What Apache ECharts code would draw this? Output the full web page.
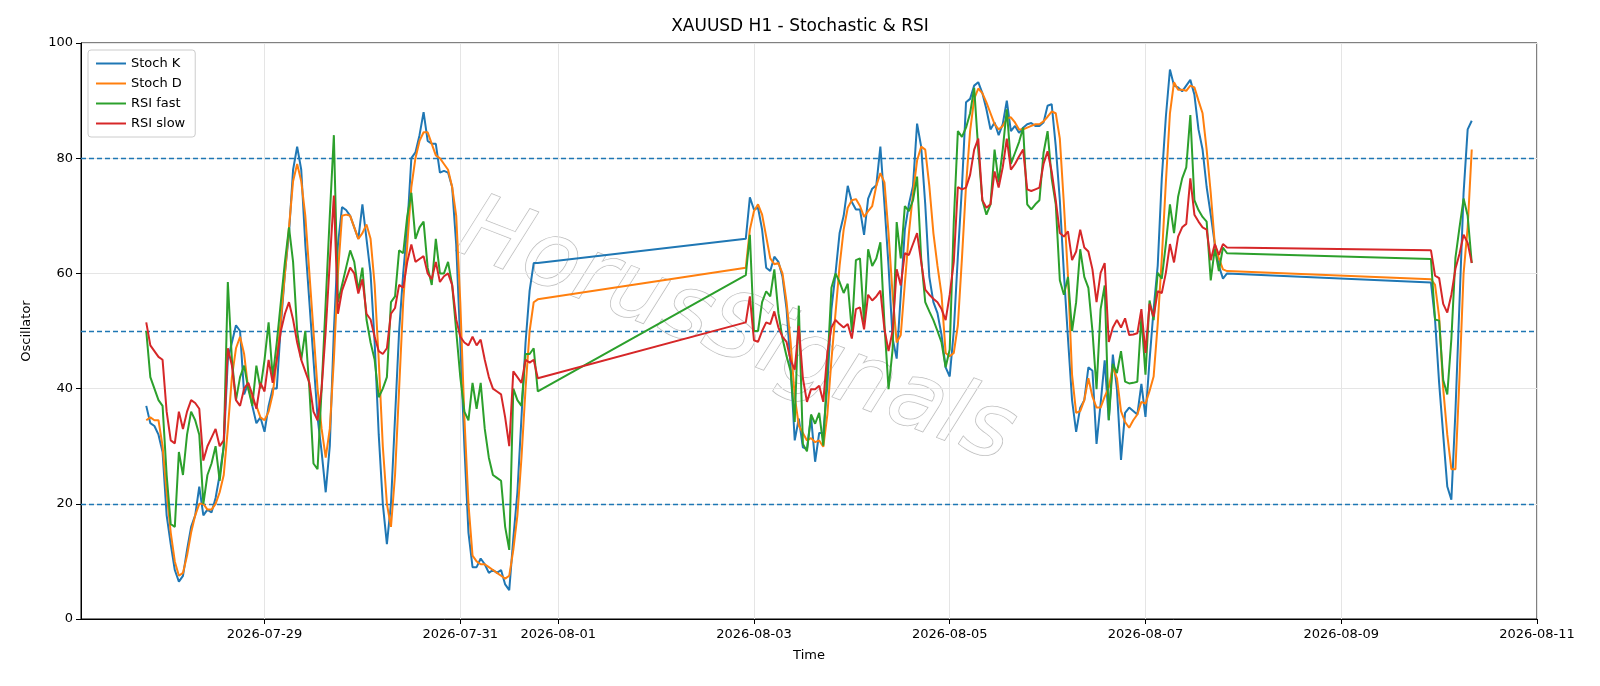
<!DOCTYPE html>
<html><head><meta charset="utf-8">
<script src="https://cdn.jsdelivr.net/npm/echarts@6/dist/echarts.min.js"></script>
<style>html,body{margin:0;padding:0;background:#fff}#c{width:1600px;height:686px}</style>
</head><body><div id="c"></div>
<script>
// segments: [start UTC ms, number of hourly points]
const segments = [
  [Date.UTC(2026,6,27,19), 97],
  [Date.UTC(2026,7,2,22), 119],
  [Date.UTC(2026,7,9,22), 11]
];
const tickDates = ['2026-07-29','2026-07-31','2026-08-01','2026-08-03','2026-08-05','2026-08-07','2026-08-09','2026-08-11'];
const levelLines = [20, 50, 80];

const stochK = [
37,34,33.5,32,29,18,13,8.5,6.5,7.5, 12,16,18,23,18,19,18.5,21,25,30, 45,48,51,50,39,41,37,34,35,32.5,
37,40,40,51,60,67,78,82,78,65, 55,45,35,29,22,30,50,65,71.5,71, 70,68,66,72,66,60,48,32,20,13,
20,35,50,60,68,80,81,84,88,83, 82.5,82.5,77.5,77.8,77.5,75,65,48,30,15, 9,9,10.5,9.5,8,8.5,8,8.5,6,5,
14,22,35,48,57,61.8,61.8,
66,73.2,71.1,71.4,67.6,61,60.4,62.9,62,59.4, 53.8,43.7,31,34.8,29.8,29.5,35.1,27.3,32.3,32.3,
40.5,53.8,60,67,70,75.2,72.4,71.1,71.1,66.7, 73,74.7,75.3,82,72,61.3,48.7,45.2,56.3,67.6,
72,75.2,86,82,72,59.4,55,53.1,49.3,43.7, 42.1,50,63,
75,89.7,90.3,92.6,93.2,91.3,88.5,85,86.2,84, 85.9,90,84.7,85.6,84.4,85.3,85.9,86.1,85.6,85.6,
86.2,89.1,89.4,82.1,72.7,60,48.7,38,32.5,36.7, 38,43.7,43.1,30.4,37.4,44.9,34.5,45.9,39.9,27.6,
35.8,36.7,36.1,35.5,40.8,35.1,44.9,53.8,61.3,76.5, 87.2,95.4,92.6,92.3,91.6,92.6,93.6,91,85,81.5,
75, 70.2,65.1,61.3,59.1,60,
58.4,52,41,32,23,20.7,36,55,74,85,86.5];
const stochD = [
34.5,35,34.5,34.5,30,22,15,10,7.5,8, 11,15,18,20,20,19,19,20,22,25, 33,42,47,49,46,40,38,37,35,34.5,
36,39,45,52,60,68,76,79,76,70, 60,50,40,33,28,33,45,60,70,70.2, 70,68,66,67,68.5,66,58,45,30,20,
16,25,40,55,65,75,80,83,84.5,84.5, 82.5,80.5,80,79,78,75,70,55,35,20, 11,10,9.5,9.5,9,8.5,8,7.5,7,7.5,
12,18,28,40,50,55,55.5,
61,67.6,70.8,72,70.2,66.4,62.6,61.6,61.8,60, 55,48,38.6,33.6,32.3,31,31.4,30.7,31,29.9,
35.5,45,53.1,61.3,67.6,71.4,72.7,72.9,71.7,69.8, 70.8,71.7,75.2,77.4,75.8,67,56.3,48,49.3,58.2,
67,73.9,79.6,82,81.5,75.2,67,61.3,56.3,46.2, 45.6,46.2,51,
62.6,75.2,84.7,90.3,92.1,91.3,89.7,87.8,85.9,85, 85.6,86.9,87.1,86.2,85,85,85.3,85.6,85.9,85.9,
86.4,87.2,88.1,87.8,83.4,72,59.4,42.4,35.8,36.1, 38,41.8,38.6,36.7,36.7,38.6,40.2,43.7,41.8,36.1,
34.2,33.2,34.5,35.5,37.7,37.4,39.6,42.1,51.2,62.6, 75.8,87.8,93.2,91.9,91.9,91.7,92.6,92.3,90,87.8,
81.5, 74,65.1,62.6,60.7,60.4,
59,58,52.5,40,32,26,26,42,60,68,81.5];
const rsiFast = [
50,42,40,38,37,25,16.5,16,29,25, 32,36,34.5,32,20,25,27,30,24,30, 58.5,45,38,42,44,40,37,44,40,45,
51.5,42,48,55,62,68,62,50,45,50, 40,27,26,40,55,70,84,55,58,61, 64,62,57,61,52,48,45,38.5,40,42,
55,56,64,63.5,70,74,66,68,69,61, 58,66,60,60,62,58,50,42,36,34.5, 41,36.5,41,33,28,25,24.5,24,16,12,
40,38,37,46,46,47,39.5,
59.7,66.7,50,50,55,56.9,56,60.7,53.1,48.7, 45.6,43,34.2,54.4,30.4,29.1,35.5,33.9,35.8,30.1,
43.7,57.5,60,58.5,56.6,58.2,50,62.3,62.6,51.5, 64.2,61.3,62.6,65.4,51.2,39.9,46.8,68.9,62.6,71.7,
70.8,72.7,76.8,62.6,55,53.4,51.9,50,48,43.7, 46.8,69,84.7,
83.7,85.3,87.8,92.2,81.5,72.7,70.2,72,81.5,75.8, 81.5,88.5,79,80.9,82.8,85.3,72,71.1,72,72.7,
80.9,84.7,76.5,72,58.8,56.3,59.4,50,55,64.2, 59.4,57.5,50,39.9,53.8,57.9,34.5,44.3,42.7,46.5,
41.2,40.9,41,41.2,52.5,42.4,55.3,51.9,60.1,59.1, 65.1,72,67,73.3,76.5,78.4,87.5,72.7,71,69.8,
69, 58.8,64.3,60.4,64.5,63.5,
62.5,52,51.8,41.5,39,48.6,62.7,68,73,70,61.8];
const rsiSlow = [
51.5,47.5,46.5,45.5,45,36,31,30.5,36,33, 36,38,37.5,36.5,27.5,30,31.5,33,30,31, 47,44,38,37,40,41,39,36.5,41,39.5,
45,41,45,50,53,55,52,48,45,43, 41,36,34.5,40,50,62,73.5,53,57,59, 61,60,56.5,59,53,52,49,46.5,46,47,
53,54,58,57.5,62,65,62,62.5,63,60, 59,62,58.5,59.5,60,58,52,49,48,47.5, 49,47.5,48.5,45,42,40,39.5,39,35,30,
43,42,41,45,44.5,45,41.8,
51.5,56,48.4,48.1,50,51.5,51.2,53.4,50.6,49, 48.1,44.9,43.3,50.9,41.8,37.7,39.9,39.9,40.5,37.7,
46.2,50.6,51.9,51.2,50.6,51.2,48.7,53.8,54.1,50.3, 56.3,55.3,56,57,50.3,46.5,50,60.7,57.9,63.5,
63.2,65.1,67,62,57.2,56.3,55.6,55,53.8,51.9, 56.3,62,75,
74.6,74.9,77.1,81.5,83.4,72.7,71.4,72,77.7,74.9, 78.4,83.4,78,79,80.3,81.5,74.6,74.3,74.6,74.9,
79,81.2,77.7,72.7,67,66.4,67.3,62.3,63.8,67.6, 64.5,63.8,60.7,55,60.1,61.8,48.1,50.6,51.9,50.6,
52.2,49.3,49.4,49.6,53.8,46.2,54.7,52.5,56.9,56.6, 60.1,65.1,61.9,66.4,68,68.6,76.5,70.2,69,68,
67.6, 62.3,65.1,63.2,65.1,64.5,
64,59.6,59.2,54.7,53.2,56.3,60.8,63.4,66.7,65.3,61.8];

const times = [];
segments.forEach(([s,n]) => { for (let i=0;i<n;i++) times.push(s + i*3600000); });
const pair = arr => arr.map((v,i) => [times[i], v]);
const tickMs = tickDates.map(d => Date.parse(d + 'T00:00:00Z'));
const pad = n => String(n).padStart(2,'0');
const fmtDate = v => { const d = new Date(v); return d.getUTCFullYear()+'-'+pad(d.getUTCMonth()+1)+'-'+pad(d.getUTCDate()); };

const font = 'DejaVu Sans';
const chart = echarts.init(document.getElementById('c'));
const mk = (name, color, data, extra) => Object.assign({
  name, type:'line', data: pair(data), showSymbol:false, symbol:'none',
  lineStyle:{color, width:2}, itemStyle:{color}, z:3
}, extra||{});

chart.setOption({
  animation: false,
  backgroundColor: '#fff',
  textStyle: {fontFamily: font},
  title: {text:'XAUUSD H1 - Stochastic & RSI', left:'center', top:13,
    textStyle:{fontFamily:font, fontSize:17, fontWeight:'normal', color:'#000'}},
  grid: {left:81, right:63, top:43, bottom:67, show:true, borderColor:'#000', borderWidth:1},
  legend: {orient:'vertical', left:88, top:50, itemWidth:30, itemHeight:2, itemGap:7,
    padding:[7,10,7,8], borderColor:'#ccc', borderWidth:1, borderRadius:3, backgroundColor:'rgba(255,255,255,0.8)',
    icon:'rect', textStyle:{fontFamily:font, fontSize:13, color:'#000'},
    data:['Stoch K','Stoch D','RSI fast','RSI slow']},
  graphic: [{type:'text', left:445, top:185, rotation:-0.37, z:0, silent:true,
    style:{text:'HorusSignals', font:'italic 90px "DejaVu Sans"', fill:'rgba(255,255,255,0.95)',
      stroke:'#bdbdbd', lineWidth:1.5, shadowColor:'rgba(0,0,0,0.3)', shadowBlur:2, shadowOffsetX:4, shadowOffsetY:4}}],
  xAxis: {type:'value', min:Date.UTC(2026,6,27,3), max:Date.UTC(2026,7,11,0),
    name:'Time', nameLocation:'middle', nameGap:30, nameTextStyle:{fontFamily:font, fontSize:13, color:'#000'},
    axisLine:{show:true, lineStyle:{color:'#000'}},
    axisTick:{show:true, customValues:tickMs, length:5, lineStyle:{color:'#000'}},
    axisLabel:{customValues:tickMs, fontFamily:font, fontSize:13, color:'#000', margin:9, formatter: fmtDate},
    splitLine:{show:false}},
  yAxis: {type:'value', min:0, max:100, interval:20,
    name:'Oscillator', nameLocation:'middle', nameGap:48, nameTextStyle:{fontFamily:font, fontSize:13, color:'#000'},
    axisLine:{show:true, lineStyle:{color:'#000'}}, axisTick:{show:true, length:5, lineStyle:{color:'#000'}},
    axisLabel:{fontFamily:font, fontSize:13, color:'#000', margin:8},
    splitLine:{show:true, lineStyle:{color:'#e5e5e5', width:1}}},
  series: [
    mk('Stoch K', '#1f77b4', stochK, {markLine:{silent:true, symbol:'none', label:{show:false}, z:1,
      data: tickMs.map(t => ({xAxis:t, lineStyle:{color:'#e5e5e5', type:'solid', width:1}}))
        .concat(levelLines.map(v => ({yAxis:v, lineStyle:{color:'#1f77b4', type:[5,3], width:1.3}})))}}),
    mk('Stoch D', '#ff7f0e', stochD),
    mk('RSI fast', '#2ca02c', rsiFast),
    mk('RSI slow', '#d62728', rsiSlow)
  ]
});
</script></body></html>
